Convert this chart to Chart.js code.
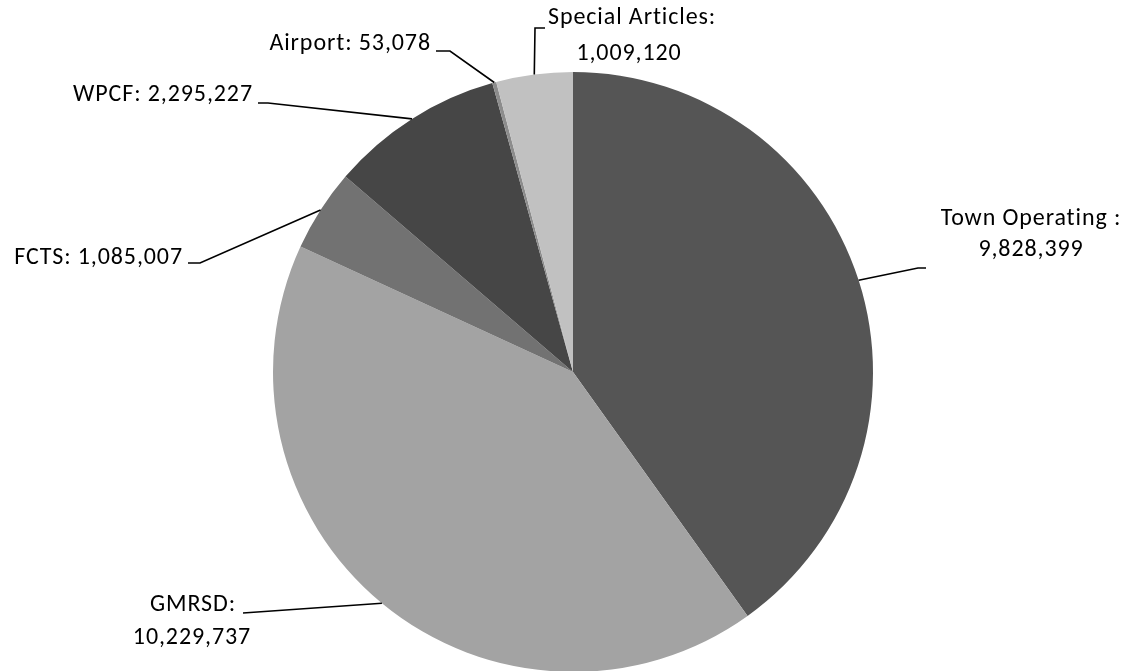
<!DOCTYPE html>
<html>
<head>
<meta charset="utf-8">
<script src="https://cdn.jsdelivr.net/npm/chart.js@4"></script>
<style>
  html, body { margin: 0; padding: 0; background: #fff; overflow: hidden; }
  #wrap { position: relative; width: 1128px; height: 700px; }
</style>
</head>
<body>
<div id="wrap"><canvas id="pie"></canvas></div>
<script>
// data
const categories = ["Town Operating :", "GMRSD:", "FCTS:", "WPCF:", "Airport:", "Special Articles:"];
const amounts = [9828399, 10229737, 1085007, 2295227, 53078, 1009120];
const sliceColors = ["#555555", "#a3a3a3", "#727272", "#464646", "#8c8c8c", "#c1c1c1"];

// where each callout sits: elbow point, end of tail, text lines and their anchor
const callouts = [
  { elbow: [918, 268], tail: [926, 268], lines: [[1031, 219, "center"], [1031, 250, "center"]], split: true },
  { elbow: [243, 613], tail: [243, 613], lines: [[193, 605, "center"], [192, 638, "center"]], split: true },
  { elbow: [200, 263], tail: [188, 263], lines: [[183, 258, "right"]], split: false },
  { elbow: [268, 103], tail: [258, 103], lines: [[253, 95, "right"]], split: false },
  { elbow: [450, 51], tail: [436, 51], lines: [[431, 44, "right"]], split: false },
  { elbow: [535, 28], tail: [545, 28], lines: [[548, 18, "left"], [629, 54, "center"]], split: true }
];

const fmt = n => n.toLocaleString("en-US");

const calloutPlugin = {
  id: "callouts",
  afterDatasetsDraw(chart) {
    const ctx = chart.ctx;
    const arcs = chart.getDatasetMeta(0).data;
    ctx.save();
    ctx.strokeStyle = "#000";
    ctx.lineWidth = 1.6;
    ctx.fillStyle = "#000";
    ctx.font = "24px Carlito, Lato, sans-serif";
    ctx.letterSpacing = "0.9px";
    ctx.textBaseline = "middle";
    arcs.forEach((arc, i) => {
      const p = arc.getProps(["x", "y", "startAngle", "endAngle", "outerRadius"], true);
      const mid = (p.startAngle + p.endAngle) / 2;
      const sx = p.x + Math.cos(mid) * p.outerRadius;
      const sy = p.y + Math.sin(mid) * p.outerRadius;
      const c = callouts[i];
      ctx.beginPath();
      ctx.moveTo(sx, sy);
      ctx.lineTo(c.elbow[0], c.elbow[1]);
      ctx.lineTo(c.tail[0], c.tail[1]);
      ctx.stroke();
      const texts = c.split ? [categories[i], fmt(amounts[i])] : [categories[i] + " " + fmt(amounts[i])];
      texts.forEach((t, k) => {
        const l = c.lines[k];
        ctx.textAlign = l[2];
        ctx.fillText(t, l[0], l[1]);
      });
    });
    ctx.restore();
  }
};

new Chart(document.getElementById("pie"), {
  type: "pie",
  data: {
    labels: categories,
    datasets: [{
      data: amounts,
      backgroundColor: sliceColors,
      borderWidth: 0
    }]
  },
  options: {
    responsive: true,
    maintainAspectRatio: false,
    animation: false,
    layout: { padding: { left: 273, right: 255, top: 72, bottom: 28 } },
    plugins: {
      legend: { display: false },
      tooltip: { enabled: false }
    }
  },
  plugins: [calloutPlugin]
});
</script>
</body>
</html>
